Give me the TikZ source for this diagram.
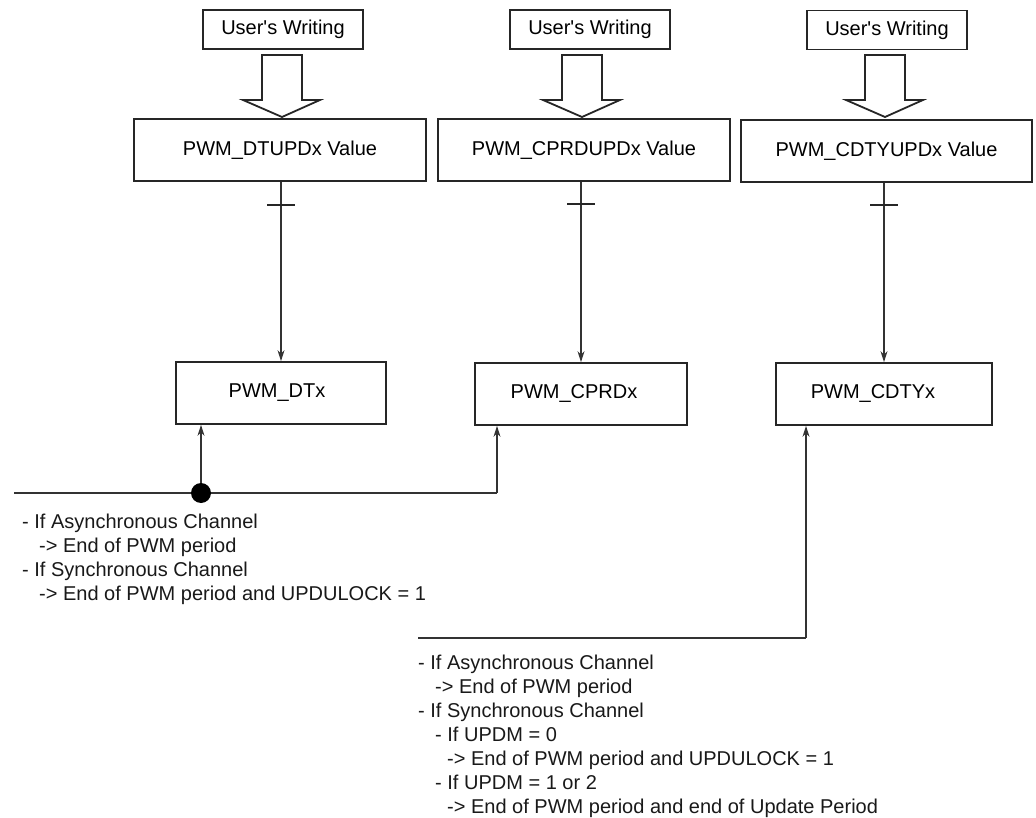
\documentclass[tikz,border=0pt]{standalone}
\usepackage{fontspec}
\setmainfont{Liberation Sans}
\usetikzlibrary{arrows.meta,calc}
\begin{document}
\begin{tikzpicture}[x=1pt,y=-1pt,
  font=\fontsize{20}{24}\selectfont,
  box/.style={draw=black!85,line width=1.8pt,inner sep=0pt,anchor=center},
  conn/.style={draw=black!80,line width=1.2pt},
  arr/.style={conn,-{Stealth[length=11pt,width=7pt]}},
  bigarrow/.style={draw=black!85,line width=1.8pt,fill=white,line join=miter},
  note/.style={anchor=north west,align=left,inner sep=0pt,text=black!90}]
\useasboundingbox (0,0) rectangle (1036,818);

% User's Writing boxes
\node[box,minimum width=160pt,minimum height=39pt] (uw1) at (283,29.5) {User\textquotesingle s Writing};
\node[box,minimum width=160pt,minimum height=39pt] (uw2) at (590,29.5) {User\textquotesingle s Writing};
\node[box,minimum width=160pt,minimum height=39pt] (uw3) at (887,30) {User\textquotesingle s Writing};

% Value boxes
\node[box,minimum width=292pt,minimum height=62pt] (val1) at (280,150) {PWM\_DTUPDx Value};
\node[box,minimum width=292pt,minimum height=62pt] (val2) at (584,150) {PWM\_CPRDUPDx Value};
\node[box,minimum width=291pt,minimum height=62pt] (val3) at (886.5,151) {PWM\_CDTYUPDx Value};

% Register boxes
\node[box,minimum width=210pt,minimum height=62pt] (dtx) at (281,393) {\hspace*{-8pt}PWM\_DTx};
\node[box,minimum width=212pt,minimum height=62pt] (cprd) at (581,394) {\hspace*{-14pt}PWM\_CPRDx};
\node[box,minimum width=216pt,minimum height=62pt] (cdty) at (884,394) {\hspace*{-22pt}PWM\_CDTYx};

% Big hollow arrows
\foreach \c in {282, 582, 885}{
  \draw[bigarrow] (\c-20,55) -- (\c-20,100) -- (\c-39,100) -- (\c,117)
    -- (\c+38,100) -- (\c+20,100) -- (\c+20,55) -- cycle;
}

% Vertical transfer arrows with tick marks
\draw[arr] (dtx.north |- val1.south) -- (dtx.north);
\draw[arr] (cprd.north |- val2.south) -- (cprd.north);
\draw[arr] (cdty.north |- val3.south) -- (cdty.north);
\draw[draw=black!85,line width=2pt] ($(dtx.north |- 0,205)+(-14,0)$) -- +(28,0);
\draw[draw=black!85,line width=2pt] ($(cprd.north |- 0,204)+(-14,0)$) -- +(28,0);
\draw[draw=black!85,line width=2pt] ($(cdty.north |- 0,205)+(-14,0)$) -- +(28,0);

% First update bus
\coordinate (busL) at (14,493);
\coordinate (dot) at (201,493);
\coordinate (busR) at (497,493);
\draw[conn] (busL) -- (busR);
\draw[arr] (busR) -- (busR |- cprd.south);
\draw[arr] (dot) -- (dot |- dtx.south);
\fill[black] (dot) circle (10pt);

% Second update bus
\coordinate (bus2L) at (418,638);
\coordinate (bus2R) at (806,638);
\draw[conn] (bus2L) -- (bus2R);
\draw[arr] (bus2R) -- (bus2R |- cdty.south);

% Notes
\node[note] (n1) at (22,514) {- If Asynchronous Channel\\
\hspace*{17pt}-> End of PWM period\\
- If Synchronous Channel\\
\hspace*{17pt}-> End of PWM period and UPDULOCK = 1};

\node[note] (n2) at (418,655) {- If Asynchronous Channel\\
\hspace*{17pt}-> End of PWM period\\
- If Synchronous Channel\\
\hspace*{17pt}- If UPDM = 0\\
\hspace*{29pt}-> End of PWM period and UPDULOCK = 1\\
\hspace*{17pt}- If UPDM = 1 or 2\\
\hspace*{29pt}-> End of PWM period and end of Update Period};
\end{tikzpicture}
\end{document}
